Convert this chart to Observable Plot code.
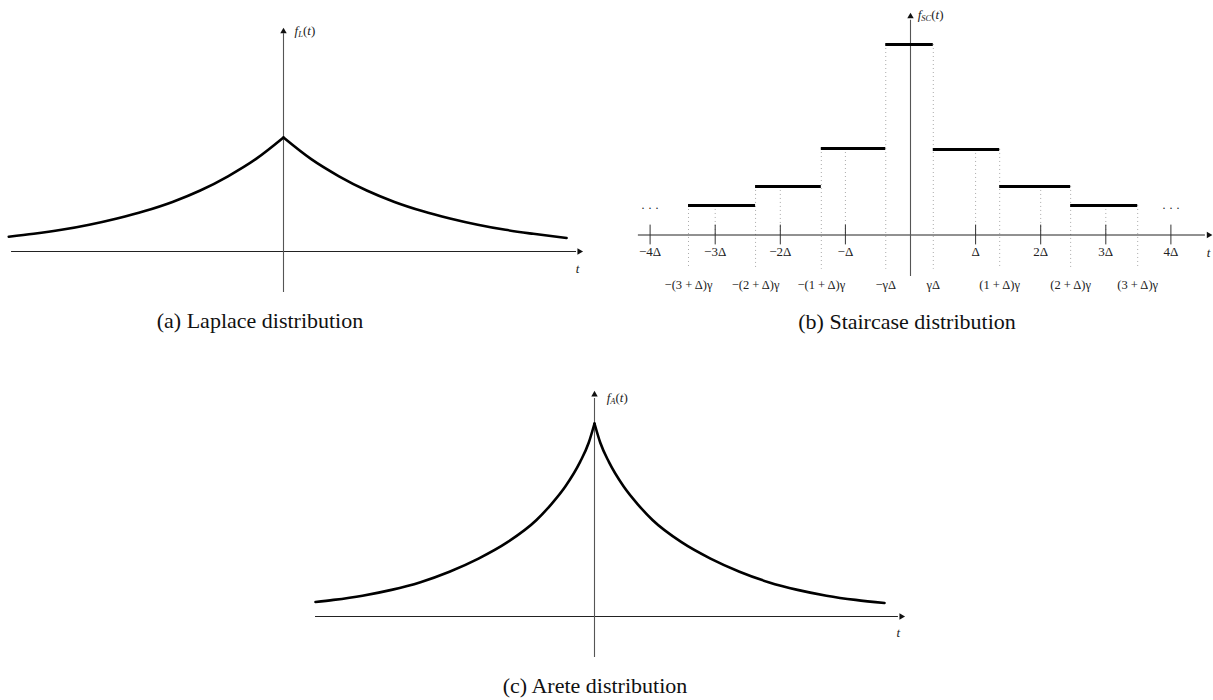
<!DOCTYPE html>
<html><head><meta charset="utf-8">
<script src="https://cdn.jsdelivr.net/npm/d3@7"></script>
<script src="https://cdn.jsdelivr.net/npm/@observablehq/plot@0.6"></script>
<style>
body{margin:0;background:#fff;}
#root{position:relative;width:1213px;height:700px;font-family:"Liberation Serif",serif;overflow:hidden;}
.panel{position:absolute;}
.cap{position:absolute;font-size:22px;transform:translate(-50%,-50%);white-space:nowrap;color:#111;}
</style></head><body><div id="root"></div>
<script>
// ---------- (a) Laplace distribution: values ----------
const laplaceLeftT  = [-4.95, -4.5, -4, -3.5, -3, -2.5, -2, -1.5, -1, -0.5, 0];
const laplaceLeftF  = [0.13, 0.155, 0.19, 0.235, 0.29, 0.355, 0.435, 0.535, 0.66, 0.81, 1];
const laplaceRightT = [0, 0.5, 1, 1.5, 2, 2.5, 3, 3.5, 4, 4.5, 5.1];
const laplaceRightF = [1, 0.81, 0.66, 0.535, 0.435, 0.355, 0.29, 0.235, 0.19, 0.155, 0.118];

// ---------- (b) Staircase distribution ----------
const stairEdges  = [-3.41, -2.38, -1.37, -0.38, 0.35, 1.37, 2.46, 3.49];
const stairLevels = [0.155, 0.255, 0.454, 1, 0.449, 0.255, 0.155];
const deltaTicks  = [-4, -3, -2, -1, 1, 2, 3, 4];
const deltaLabels = ["−4Δ", "−3Δ", "−2Δ", "−Δ", "Δ", "2Δ", "3Δ", "4Δ"];
const edgeLabels  = ["−(3 + Δ)γ", "−(2 + Δ)γ", "−(1 + Δ)γ", "−γΔ", "γΔ", "(1 + Δ)γ", "(2 + Δ)γ", "(3 + Δ)γ"];
const ellipsisT   = [-4, 4];

// ---------- (c) Arete distribution ----------
const areteLeftT  = [-4.81, -4.5, -4, -3.5, -3, -2.5, -2, -1.5, -1, -0.75, -0.5, -0.25, -0.1, 0];
const areteLeftF  = [0.075, 0.086, 0.108, 0.138, 0.178, 0.232, 0.30, 0.385, 0.50, 0.58, 0.675, 0.80, 0.90, 1];
const areteRightT = [0, 0.1, 0.25, 0.5, 0.75, 1, 1.5, 2, 2.5, 3, 3.5, 4, 4.5, 5];
const areteRightF = [1, 0.90, 0.80, 0.675, 0.58, 0.50, 0.385, 0.30, 0.232, 0.178, 0.138, 0.108, 0.086, 0.07];

const captions = ["(a) Laplace distribution", "(b) Staircase distribution", "(c) Arete distribution"];

// ---------- helpers ----------
const FONT = "Liberation Serif";
const root = document.getElementById("root");
function branch(ts, fs, side) { return ts.map((t, i) => ({t, f: fs[i], side})); }
function place(svg, left, top) {
  const d = document.createElement("div");
  d.className = "panel"; d.style.left = left + "px"; d.style.top = top + "px";
  d.appendChild(svg); root.appendChild(d);
}
function caption(text, cx, cy) {
  const d = document.createElement("div");
  d.className = "cap"; d.textContent = text;
  d.style.left = cx + "px"; d.style.top = cy + "px";
  root.appendChild(d);
}
function ylabel(svg, sub) {
  d3.select(svg).selectAll("g.ylab text").each(function() {
    const t = d3.select(this); t.text(null);
    t.append("tspan").attr("font-style", "italic").text("f");
    t.append("tspan").attr("font-style", "italic").attr("font-size", "8.5").attr("dy", "2.5").text(sub);
    t.append("tspan").attr("dy", "-2.5").text("(");
    t.append("tspan").attr("font-style", "italic").text("t");
    t.append("tspan").text(")");
  });
}
function axesMarks(ax) {
  return [
    Plot.ruleY([0], {x1: ax.x0, x2: ax.x1 - 0.05, stroke: "#222", strokeWidth: 1}),
    Plot.ruleX([0], {y1: ax.y0, y2: ax.y1 - 0.02, stroke: "#555", strokeWidth: 1.1}),
    Plot.dot([{x: ax.x1, y: 0}], {x: "x", y: "y", symbol: "triangle", r: 2.4, fill: "#111", rotate: 90}),
    Plot.dot([{x: 0, y: ax.y1}], {x: "x", y: "y", symbol: "triangle", r: 2.4, fill: "#111"}),
    Plot.text([{x: ax.tx, y: ax.ty}], {x: "x", y: "y", text: () => "t", fontStyle: "italic", fontSize: 13, fill: "#222"}),
    Plot.text([{x: ax.lx, y: ax.ly}], {x: "x", y: "y", text: () => "f", textAnchor: "start", fontSize: 13, fill: "#222", className: "ylab"})
  ];
}
const baseStyle = {background: "transparent", fontFamily: FONT, overflow: "visible"};

// ---------- panel (a) ----------
{
  const data = branch(laplaceLeftT, laplaceLeftF, "L").concat(branch(laplaceRightT, laplaceRightF, "R"));
  const svg = Plot.plot({
    width: 600, height: 340, margin: 0, style: baseStyle,
    x: {domain: [-5, 5], range: [5.5, 560.5], axis: null},
    y: {domain: [0, 1], range: [251, 137], axis: null},
    marks: [
      ...axesMarks({x0: -4.9, x1: 5.33, y0: -0.36, y1: 1.93, tx: 5.3, ty: -0.15, lx: 0.2, ly: 1.94}),
      Plot.line(data, {x: "t", y: "f", z: "side", curve: "monotone-x", stroke: "#000", strokeWidth: 2.6})
    ]
  });
  ylabel(svg, "L");
  place(svg, 0, 0);
  caption(captions[0], 260, 321);
}

// ---------- panel (b) ----------
{
  const stairs = stairLevels.map((f, i) => ({a: stairEdges[i], b: stairEdges[i + 1], f}));
  const edgeDots = stairEdges.map((x, i) => ({x, top: Math.max(stairLevels[i - 1] ?? 0, stairLevels[i] ?? 0)}));
  const tickDots = deltaTicks.filter(k => Math.abs(k) < 4)
    .map(k => ({x: k, top: stairs.find(s => k >= s.a && k < s.b).f}));
  const ticks = deltaTicks.map((x, i) => ({x, label: deltaLabels[i]}));
  const edges = stairEdges.map((x, i) => ({x, label: edgeLabels[i]}));
  const svg = Plot.plot({
    width: 613, height: 340, margin: 0, style: baseStyle,
    x: {domain: [-4, 4], range: [49.6, 570.4], axis: null},
    y: {domain: [0, 1], range: [234.5, 44], axis: null},
    marks: [
      Plot.ruleX(edgeDots, {x: "x", y1: "top", y2: () => -0.18, stroke: "#aaa", strokeWidth: 1, strokeDasharray: "1,3"}),
      Plot.ruleX(tickDots, {x: "x", y1: "top", y2: () => 0, stroke: "#aaa", strokeWidth: 1, strokeDasharray: "1,3"}),
      ...axesMarks({x0: -4.18, x1: 4.58, y0: -0.218, y1: 1.147, tx: 4.58, ty: -0.092, lx: 0.11, ly: 1.157}),
      Plot.ruleX(ticks, {x: "x", y1: () => -0.052, y2: () => 0.052, stroke: "#333", strokeWidth: 1}),
      Plot.ruleY(stairs, {x1: "a", x2: "b", y: "f", stroke: "#000", strokeWidth: 3}),
      Plot.text(ticks, {x: "x", y: () => -0.087, text: "label", fontSize: 13, fill: "#222"}),
      Plot.text(edges, {x: "x", y: () => -0.265, text: "label", fontSize: 12.5, fill: "#222"}),
      Plot.text(ellipsisT, {x: d => d, y: () => 0.139, text: () => "· · ·", fontSize: 12, fill: "#222"})
    ]
  });
  ylabel(svg, "SC");
  place(svg, 600, 0);
  caption(captions[1], 907, 322);
}

// ---------- panel (c) ----------
{
  const data = branch(areteLeftT, areteLeftF, "L").concat(branch(areteRightT, areteRightF, "R"));
  const svg = Plot.plot({
    width: 640, height: 330, margin: 0, style: baseStyle,
    x: {domain: [-5, 5], range: [14, 594], axis: null},
    y: {domain: [0, 1], range: [246, 53], axis: null},
    marks: [
      ...axesMarks({x0: -4.81, x1: 5.29, y0: -0.212, y1: 1.15, tx: 5.24, ty: -0.083, lx: 0.21, ly: 1.135}),
      Plot.line(data, {x: "t", y: "f", z: "side", curve: "monotone-x", stroke: "#000", strokeWidth: 2.6})
    ]
  });
  ylabel(svg, "A");
  place(svg, 290, 370);
  caption(captions[2], 595, 686);
}
</script></body></html>
